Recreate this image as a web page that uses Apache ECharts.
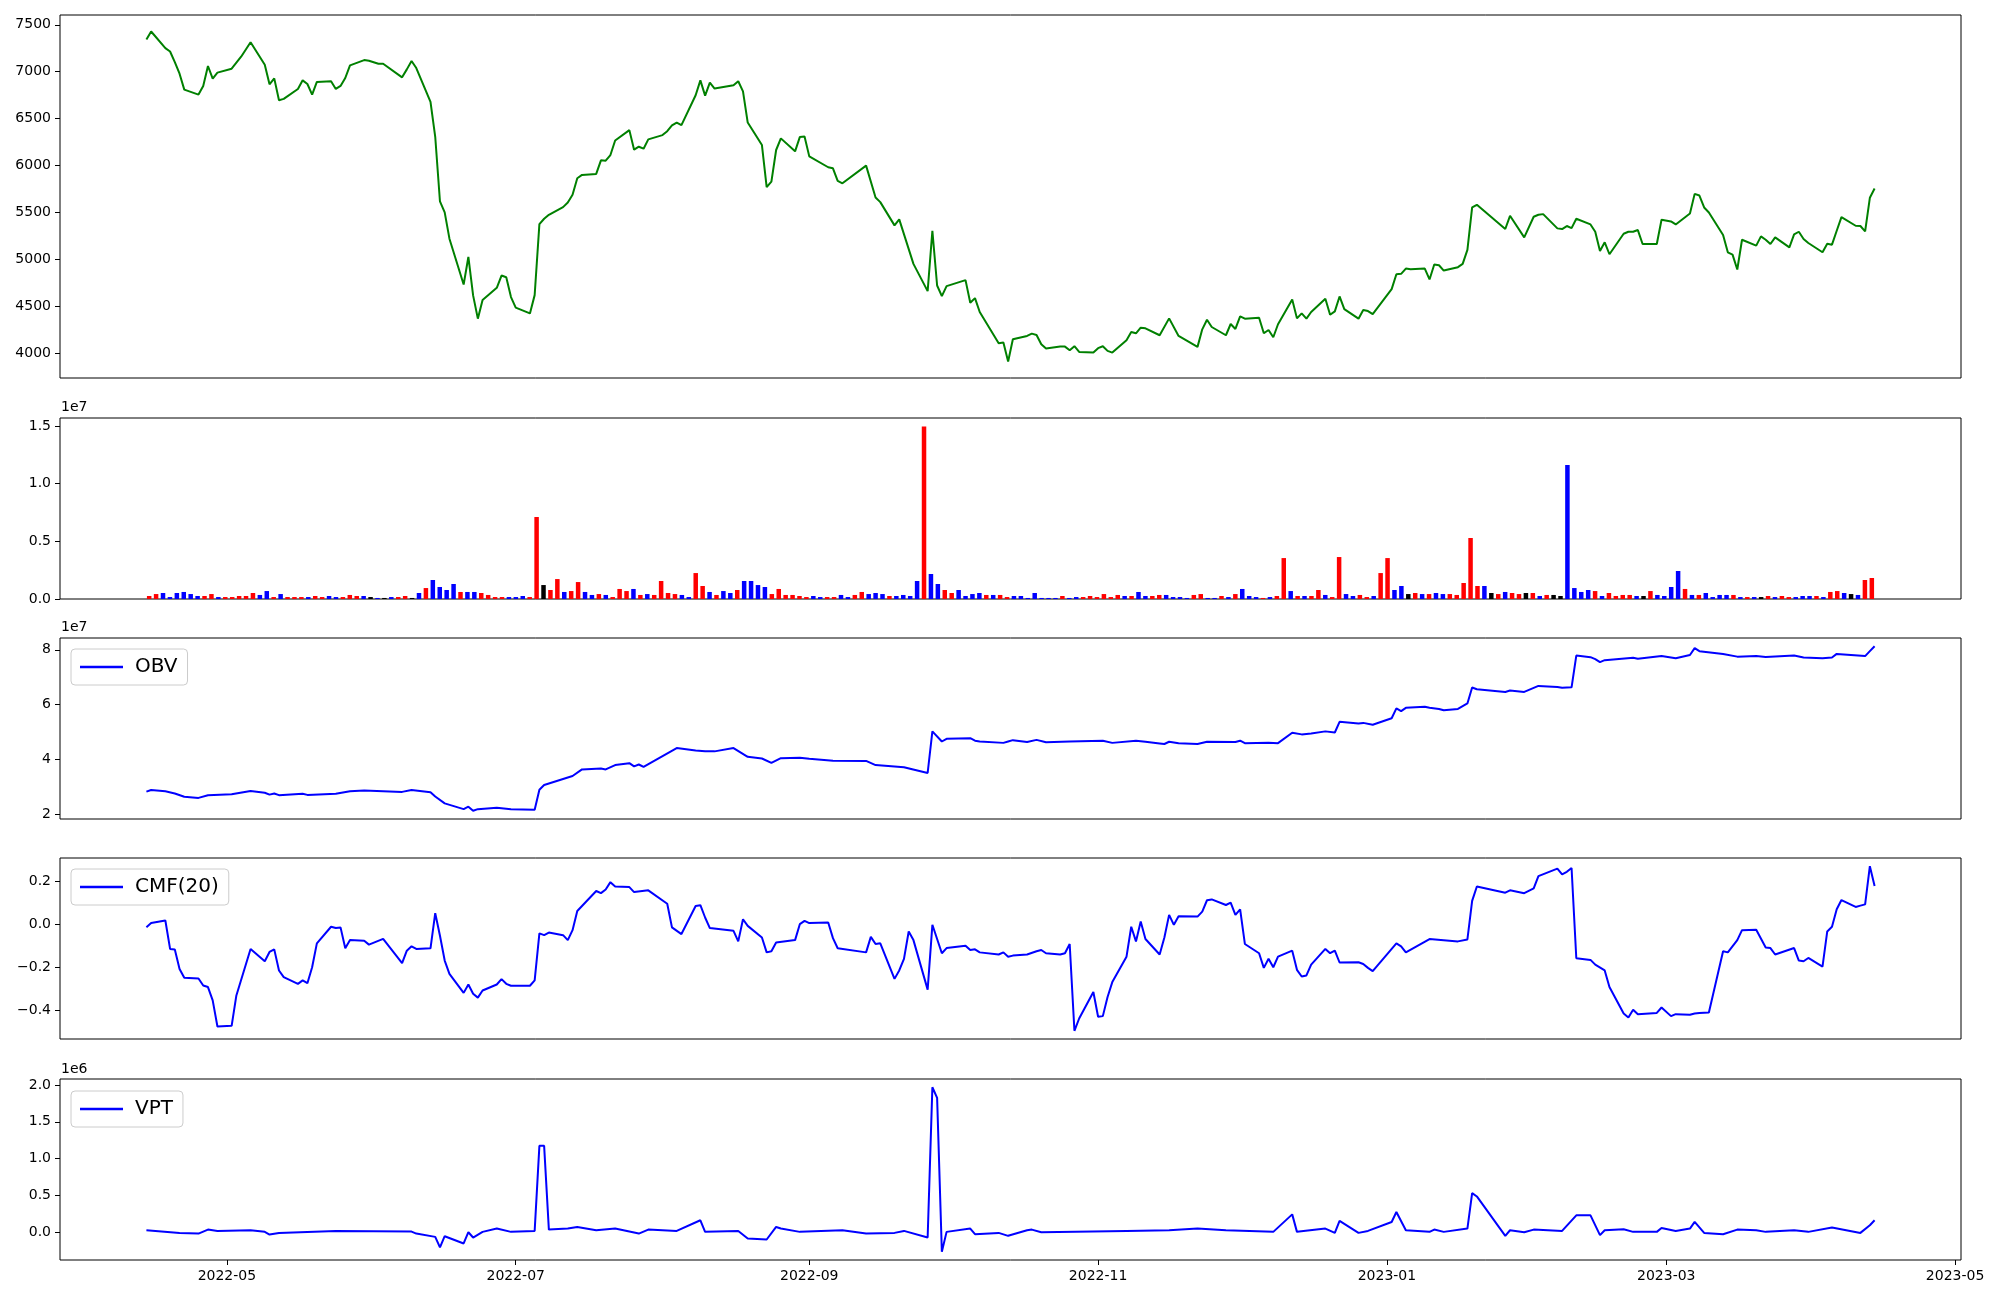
<!DOCTYPE html>
<html>
<head>
<meta charset="utf-8">
<script src="https://cdn.jsdelivr.net/npm/echarts@6/dist/echarts.min.js"></script>
<style>html,body{margin:0;padding:0;background:#fff}#c{width:2000px;height:1300px}</style>
</head>
<body>
<div id="c"></div>
<script>
// ---------------- DATA ----------------
const priceSeries = [
['2022-04-14',7343],['2022-04-15',7428],['2022-04-18',7251],['2022-04-19',7215],['2022-04-20',7102],['2022-04-21',6978],['2022-04-22',6808],['2022-04-25',6755],['2022-04-26',6847],['2022-04-27',7060],['2022-04-28',6925],['2022-04-29',6989],
['2022-05-02',7031],['2022-05-03',7095],['2022-05-04',7159],['2022-05-06',7314],['2022-05-09',7074],['2022-05-10',6865],['2022-05-11',6928],['2022-05-12',6695],['2022-05-13',6709],['2022-05-16',6815],['2022-05-17',6907],['2022-05-18',6868],['2022-05-19',6755],['2022-05-20',6890],['2022-05-23',6897],['2022-05-24',6815],['2022-05-25',6847],['2022-05-26',6932],['2022-05-27',7067],['2022-05-30',7123],['2022-05-31',7116],
['2022-06-02',7084],['2022-06-03',7084],['2022-06-07',6939],['2022-06-08',7024],['2022-06-09',7113],['2022-06-10',7038],['2022-06-13',6677],['2022-06-14',6305],['2022-06-15',5615],['2022-06-16',5498],['2022-06-17',5218],['2022-06-20',4729],['2022-06-21',5023],['2022-06-22',4613],['2022-06-23',4365],['2022-06-24',4563],['2022-06-27',4694],['2022-06-28',4825],['2022-06-29',4807],['2022-06-30',4595],
['2022-07-01',4482],['2022-07-04',4421],['2022-07-05',4616],['2022-07-06',5374],['2022-07-07',5431],['2022-07-08',5473],['2022-07-11',5555],['2022-07-12',5604],['2022-07-13',5686],['2022-07-14',5863],['2022-07-15',5898],['2022-07-18',5909],['2022-07-19',6054],['2022-07-20',6050],['2022-07-21',6110],['2022-07-22',6266],['2022-07-25',6376],['2022-07-26',6167],['2022-07-27',6199],['2022-07-28',6178],['2022-07-29',6277],
['2022-08-01',6323],['2022-08-02',6365],['2022-08-03',6426],['2022-08-04',6457],['2022-08-05',6429],['2022-08-08',6748],['2022-08-09',6907],['2022-08-10',6744],['2022-08-11',6882],['2022-08-12',6819],['2022-08-16',6854],['2022-08-17',6897],['2022-08-18',6790],['2022-08-19',6457],['2022-08-22',6217],['2022-08-23',5767],['2022-08-24',5827],['2022-08-25',6164],['2022-08-26',6288],['2022-08-29',6150],['2022-08-30',6302],['2022-08-31',6309],
['2022-09-01',6096],['2022-09-05',5980],['2022-09-06',5969],['2022-09-07',5834],['2022-09-08',5809],['2022-09-13',5997],['2022-09-15',5657],['2022-09-16',5608],['2022-09-19',5360],['2022-09-20',5424],['2022-09-23',4949],['2022-09-26',4659],['2022-09-27',5303],['2022-09-28',4719],['2022-09-29',4606],['2022-09-30',4712],
['2022-10-04',4776],['2022-10-05',4535],['2022-10-06',4584],['2022-10-07',4436],['2022-10-11',4103],['2022-10-12',4110],['2022-10-13',3908],['2022-10-14',4145],['2022-10-17',4181],['2022-10-18',4205],['2022-10-19',4191],['2022-10-20',4092],['2022-10-21',4046],['2022-10-24',4067],['2022-10-25',4067],['2022-10-26',4028],['2022-10-27',4071],['2022-10-28',4010],['2022-10-31',4003],
['2022-11-01',4050],['2022-11-02',4071],['2022-11-03',4021],['2022-11-04',4003],['2022-11-07',4135],['2022-11-08',4223],['2022-11-09',4209],['2022-11-10',4269],['2022-11-11',4262],['2022-11-14',4188],['2022-11-16',4368],['2022-11-18',4181],['2022-11-22',4064],['2022-11-23',4251],['2022-11-24',4354],['2022-11-25',4276],['2022-11-28',4188],['2022-11-29',4308],['2022-11-30',4255],
['2022-12-01',4390],['2022-12-02',4365],['2022-12-05',4375],['2022-12-06',4209],['2022-12-07',4244],['2022-12-08',4167],['2022-12-09',4305],['2022-12-12',4570],['2022-12-13',4368],['2022-12-14',4421],['2022-12-15',4365],['2022-12-16',4436],['2022-12-19',4577],['2022-12-20',4407],['2022-12-21',4443],['2022-12-22',4602],['2022-12-23',4467],['2022-12-26',4365],['2022-12-27',4457],['2022-12-28',4446],['2022-12-29',4414],
['2023-01-02',4680],['2023-01-03',4839],['2023-01-04',4843],['2023-01-05',4899],['2023-01-06',4892],['2023-01-09',4899],['2023-01-10',4783],['2023-01-11',4942],['2023-01-12',4935],['2023-01-13',4878],['2023-01-16',4914],['2023-01-17',4949],['2023-01-18',5098],['2023-01-19',5551],['2023-01-20',5579],['2023-01-26',5321],['2023-01-27',5462],['2023-01-30',5232],
['2023-02-01',5452],['2023-02-02',5473],['2023-02-03',5480],['2023-02-06',5328],['2023-02-07',5321],['2023-02-08',5353],['2023-02-09',5331],['2023-02-10',5431],['2023-02-13',5370],['2023-02-14',5292],['2023-02-15',5087],['2023-02-16',5179],['2023-02-17',5052],['2023-02-20',5271],['2023-02-21',5292],['2023-02-22',5292],['2023-02-23',5310],['2023-02-24',5161],['2023-02-27',5161],['2023-02-28',5420],
['2023-03-02',5402],['2023-03-03',5370],['2023-03-06',5487],['2023-03-07',5696],['2023-03-08',5678],['2023-03-09',5551],['2023-03-10',5498],['2023-03-13',5257],['2023-03-14',5073],['2023-03-15',5048],['2023-03-16',4889],['2023-03-17',5207],['2023-03-20',5144],['2023-03-21',5243],['2023-03-22',5207],['2023-03-23',5161],['2023-03-24',5232],['2023-03-27',5126],['2023-03-28',5264],['2023-03-29',5292],['2023-03-30',5215],['2023-03-31',5172],
['2023-04-03',5073],['2023-04-04',5165],['2023-04-05',5154],['2023-04-06',5303],['2023-04-07',5448],['2023-04-10',5356],['2023-04-11',5353],['2023-04-12',5296],['2023-04-13',5654],['2023-04-14',5753]
];

// daily volume (one bar per trading day, in order)
const volume = [
260000,430000,520000,170000,520000,610000,430000,260000,260000,430000,
170000,170000,170000,260000,260000,520000,350000,690000,170000,430000,
170000,170000,170000,170000,260000,170000,260000,170000,170000,350000,
260000,260000,170000,90000,90000,170000,170000,260000,90000,520000,
950000,1650000,1040000,780000,1300000,610000,610000,610000,520000,350000,
170000,170000,170000,170000,260000,170000,7110000,1210000,780000,1730000,
610000,690000,1470000,610000,350000,430000,350000,170000,870000,690000,
870000,350000,430000,350000,1560000,520000,430000,350000,170000,2250000,
1130000,610000,350000,690000,520000,780000,1560000,1560000,1210000,1040000,
430000,870000,350000,350000,260000,170000,260000,170000,170000,170000,
350000,170000,350000,610000,430000,520000,430000,260000,260000,350000,
260000,1560000,14950000,2170000,1300000,780000,520000,780000,260000,430000,
520000,350000,350000,350000,170000,260000,260000,90000,520000,90000,
90000,90000,260000,90000,170000,170000,260000,170000,430000,170000,
350000,260000,260000,610000,260000,260000,350000,350000,170000,170000,
90000,350000,430000,90000,90000,260000,170000,430000,870000,260000,
170000,90000,170000,260000,3550000,690000,260000,260000,260000,780000,
350000,170000,3640000,430000,260000,350000,170000,260000,2250000,3550000,
780000,1130000,430000,520000,430000,430000,520000,430000,430000,350000,
1390000,5290000,1130000,1130000,520000,430000,610000,520000,430000,520000,
520000,260000,350000,350000,260000,11620000,950000,610000,780000,690000,
260000,520000,260000,350000,350000,260000,260000,690000,350000,260000,
1040000,2430000,870000,350000,350000,520000,170000,350000,350000,350000,
170000,170000,170000,170000,260000,170000,260000,170000,170000,260000,
260000,260000,170000,610000,690000,520000,430000,350000,1650000,1820000
];
// bar direction: 1 up (red), -1 down (blue), 0 unchanged (black)
const volumeDir = [
1,1,-1,-1,-1,-1,-1,-1,1,1,
-1,1,1,1,1,1,-1,-1,1,-1,
1,1,1,-1,1,1,-1,-1,1,1,
1,-1,0,-1,0,-1,1,1,0,-1,
1,-1,-1,-1,-1,1,-1,-1,1,1,
1,1,-1,-1,-1,1,1,0,1,1,
-1,1,1,-1,-1,1,-1,1,1,1,
-1,1,-1,1,1,1,1,-1,-1,1,
1,-1,1,-1,-1,1,-1,-1,-1,-1,
1,1,1,1,1,1,-1,-1,1,1,
-1,-1,1,1,-1,-1,-1,1,-1,-1,
-1,-1,1,-1,-1,1,1,-1,-1,-1,
-1,1,-1,1,1,-1,-1,-1,-1,-1,
-1,-1,1,-1,-1,1,1,1,1,1,
1,-1,1,-1,-1,1,1,-1,-1,-1,
-1,1,1,-1,-1,1,-1,1,-1,-1,
-1,1,-1,1,1,-1,1,-1,1,1,
-1,1,1,-1,-1,1,1,-1,1,1,
-1,-1,0,1,-1,1,-1,-1,1,1,
1,1,1,-1,0,1,-1,1,1,0,
1,-1,1,0,0,-1,-1,-1,-1,1,
-1,1,1,1,1,-1,0,1,-1,-1,
-1,-1,1,-1,1,-1,-1,-1,-1,1,
-1,1,-1,0,1,-1,1,1,-1,-1,
-1,1,-1,1,1,-1,0,-1,1,1
];

const obvSeries = [
['2022-04-14',2.82e7],['2022-04-15',2.88e7],['2022-04-18',2.83e7],['2022-04-20',2.75e7],['2022-04-22',2.63e7],['2022-04-25',2.59e7],['2022-04-27',2.69e7],['2022-05-02',2.72e7],['2022-05-06',2.84e7],['2022-05-09',2.78e7],['2022-05-10',2.71e7],['2022-05-11',2.75e7],['2022-05-12',2.69e7],['2022-05-17',2.74e7],['2022-05-18',2.70e7],['2022-05-24',2.74e7],['2022-05-27',2.83e7],['2022-05-30',2.86e7],['2022-06-07',2.81e7],['2022-06-09',2.88e7],['2022-06-13',2.80e7],['2022-06-14',2.64e7],['2022-06-16',2.39e7],['2022-06-20',2.18e7],['2022-06-21',2.27e7],['2022-06-22',2.12e7],['2022-06-23',2.18e7],['2022-06-27',2.23e7],['2022-06-30',2.18e7],['2022-07-05',2.16e7],['2022-07-06',2.89e7],['2022-07-07',3.06e7],['2022-07-13',3.39e7],['2022-07-15',3.63e7],['2022-07-19',3.66e7],['2022-07-20',3.63e7],['2022-07-22',3.79e7],['2022-07-25',3.86e7],['2022-07-26',3.74e7],['2022-07-27',3.81e7],['2022-07-28',3.72e7],['2022-08-04',4.41e7],['2022-08-08',4.32e7],['2022-08-10',4.29e7],['2022-08-12',4.29e7],['2022-08-16',4.41e7],['2022-08-19',4.09e7],['2022-08-22',4.03e7],['2022-08-24',3.87e7],['2022-08-26',4.04e7],['2022-08-30',4.06e7],['2022-09-01',4.02e7],['2022-09-06',3.95e7],['2022-09-13',3.94e7],['2022-09-15',3.79e7],['2022-09-19',3.74e7],['2022-09-21',3.71e7],['2022-09-26',3.50e7],['2022-09-27',5.02e7],['2022-09-29',4.65e7],['2022-09-30',4.75e7],['2022-10-05',4.77e7],['2022-10-06',4.68e7],['2022-10-07',4.65e7],['2022-10-12',4.60e7],['2022-10-13',4.65e7],['2022-10-14',4.70e7],['2022-10-17',4.63e7],['2022-10-19',4.71e7],['2022-10-21',4.62e7],['2022-10-26',4.65e7],['2022-11-02',4.68e7],['2022-11-04',4.60e7],['2022-11-09',4.68e7],['2022-11-11',4.64e7],['2022-11-14',4.58e7],['2022-11-15',4.56e7],['2022-11-16',4.64e7],['2022-11-18',4.59e7],['2022-11-22',4.56e7],['2022-11-24',4.64e7],['2022-11-30',4.63e7],['2022-12-01',4.68e7],['2022-12-02',4.59e7],['2022-12-07',4.60e7],['2022-12-09',4.59e7],['2022-12-12',4.97e7],['2022-12-14',4.91e7],['2022-12-16',4.94e7],['2022-12-19',5.02e7],['2022-12-21',4.98e7],['2022-12-22',5.37e7],['2022-12-26',5.31e7],['2022-12-27',5.33e7],['2022-12-29',5.26e7],['2023-01-02',5.50e7],['2023-01-03',5.86e7],['2023-01-04',5.76e7],['2023-01-05',5.88e7],['2023-01-09',5.92e7],['2023-01-10',5.88e7],['2023-01-12',5.84e7],['2023-01-13',5.79e7],['2023-01-16',5.84e7],['2023-01-18',6.04e7],['2023-01-19',6.62e7],['2023-01-20',6.56e7],['2023-01-26',6.46e7],['2023-01-27',6.51e7],['2023-01-30',6.46e7],['2023-02-02',6.68e7],['2023-02-06',6.64e7],['2023-02-07',6.61e7],['2023-02-09',6.63e7],['2023-02-10',7.79e7],['2023-02-13',7.73e7],['2023-02-14',7.66e7],['2023-02-15',7.55e7],['2023-02-16',7.62e7],['2023-02-22',7.71e7],['2023-02-23',7.67e7],['2023-02-28',7.77e7],['2023-03-03',7.69e7],['2023-03-06',7.81e7],['2023-03-07',8.06e7],['2023-03-08',7.95e7],['2023-03-13',7.85e7],['2023-03-16',7.75e7],['2023-03-20',7.77e7],['2023-03-22',7.74e7],['2023-03-28',7.79e7],['2023-03-30',7.72e7],['2023-04-03',7.69e7],['2023-04-05',7.72e7],['2023-04-06',7.85e7],['2023-04-12',7.77e7],['2023-04-13',7.95e7],['2023-04-14',8.13e7]
];

const cmfSeries = [
['2022-04-14',-0.015],['2022-04-15',0.004],['2022-04-18',0.016],['2022-04-19',-0.116],['2022-04-20',-0.119],['2022-04-21',-0.209],['2022-04-22',-0.250],['2022-04-25',-0.253],['2022-04-26',-0.286],['2022-04-27',-0.293],['2022-04-28',-0.355],['2022-04-29',-0.476],['2022-05-02',-0.473],['2022-05-03',-0.332],['2022-05-06',-0.116],['2022-05-09',-0.173],['2022-05-10',-0.130],['2022-05-11',-0.118],['2022-05-12',-0.216],['2022-05-13',-0.247],['2022-05-16',-0.278],['2022-05-17',-0.262],['2022-05-18',-0.275],['2022-05-19',-0.201],['2022-05-20',-0.090],['2022-05-23',-0.013],['2022-05-24',-0.019],['2022-05-25',-0.016],['2022-05-26',-0.113],['2022-05-27',-0.075],['2022-05-30',-0.078],['2022-05-31',-0.096],['2022-06-03',-0.069],['2022-06-07',-0.182],['2022-06-08',-0.124],['2022-06-09',-0.104],['2022-06-10',-0.116],['2022-06-13',-0.113],['2022-06-14',0.050],['2022-06-15',-0.055],['2022-06-16',-0.170],['2022-06-17',-0.232],['2022-06-20',-0.320],['2022-06-21',-0.281],['2022-06-22',-0.324],['2022-06-23',-0.342],['2022-06-24',-0.309],['2022-06-27',-0.281],['2022-06-28',-0.256],['2022-06-29',-0.278],['2022-06-30',-0.287],['2022-07-04',-0.287],['2022-07-05',-0.262],['2022-07-06',-0.044],['2022-07-07',-0.052],['2022-07-08',-0.040],['2022-07-11',-0.052],['2022-07-12',-0.075],['2022-07-13',-0.029],['2022-07-14',0.060],['2022-07-18',0.153],['2022-07-19',0.143],['2022-07-20',0.160],['2022-07-21',0.194],['2022-07-22',0.174],['2022-07-25',0.171],['2022-07-26',0.148],['2022-07-29',0.156],['2022-08-02',0.094],['2022-08-03',-0.016],['2022-08-05',-0.047],['2022-08-08',0.083],['2022-08-09',0.087],['2022-08-10',0.030],['2022-08-11',-0.019],['2022-08-16',-0.032],['2022-08-17',-0.081],['2022-08-18',0.022],['2022-08-19',-0.009],['2022-08-22',-0.063],['2022-08-23',-0.132],['2022-08-24',-0.127],['2022-08-25',-0.086],['2022-08-29',-0.075],['2022-08-30',-0.001],['2022-08-31',0.014],['2022-09-01',0.004],['2022-09-05',0.007],['2022-09-06',-0.066],['2022-09-07',-0.113],['2022-09-13',-0.132],['2022-09-14',-0.060],['2022-09-15',-0.093],['2022-09-16',-0.090],['2022-09-19',-0.255],['2022-09-20',-0.216],['2022-09-21',-0.162],['2022-09-22',-0.035],['2022-09-23',-0.075],['2022-09-26',-0.305],['2022-09-27',-0.004],['2022-09-29',-0.136],['2022-09-30',-0.112],['2022-10-04',-0.101],['2022-10-05',-0.121],['2022-10-06',-0.118],['2022-10-07',-0.132],['2022-10-11',-0.142],['2022-10-12',-0.132],['2022-10-13',-0.152],['2022-10-14',-0.147],['2022-10-17',-0.142],['2022-10-19',-0.127],['2022-10-20',-0.121],['2022-10-21',-0.136],['2022-10-24',-0.142],['2022-10-25',-0.136],['2022-10-26',-0.093],['2022-10-27',-0.496],['2022-10-28',-0.439],['2022-10-31',-0.316],['2022-11-01',-0.431],['2022-11-02',-0.428],['2022-11-03',-0.339],['2022-11-04',-0.270],['2022-11-07',-0.152],['2022-11-08',-0.013],['2022-11-09',-0.081],['2022-11-10',0.011],['2022-11-11',-0.070],['2022-11-14',-0.142],['2022-11-15',-0.063],['2022-11-16',0.042],['2022-11-17',-0.004],['2022-11-18',0.036],['2022-11-22',0.034],['2022-11-23',0.057],['2022-11-24',0.110],['2022-11-25',0.114],['2022-11-28',0.088],['2022-11-29',0.099],['2022-11-30',0.042],['2022-12-01',0.068],['2022-12-02',-0.093],['2022-12-05',-0.136],['2022-12-06',-0.204],['2022-12-07',-0.162],['2022-12-08',-0.201],['2022-12-09',-0.152],['2022-12-12',-0.124],['2022-12-13',-0.213],['2022-12-14',-0.244],['2022-12-15',-0.239],['2022-12-16',-0.189],['2022-12-19',-0.116],['2022-12-20',-0.136],['2022-12-21',-0.124],['2022-12-22',-0.179],['2022-12-26',-0.178],['2022-12-27',-0.186],['2022-12-28',-0.204],['2022-12-29',-0.219],['2023-01-03',-0.090],['2023-01-04',-0.104],['2023-01-05',-0.132],['2023-01-10',-0.070],['2023-01-16',-0.081],['2023-01-18',-0.072],['2023-01-19',0.107],['2023-01-20',0.174],['2023-01-26',0.145],['2023-01-27',0.156],['2023-01-30',0.143],['2023-02-01',0.165],['2023-02-02',0.222],['2023-02-06',0.257],['2023-02-07',0.230],['2023-02-08',0.242],['2023-02-09',0.260],['2023-02-10',-0.159],['2023-02-13',-0.167],['2023-02-14',-0.189],['2023-02-16',-0.216],['2023-02-17',-0.293],['2023-02-20',-0.416],['2023-02-21',-0.434],['2023-02-22',-0.398],['2023-02-23',-0.419],['2023-02-27',-0.413],['2023-02-28',-0.388],['2023-03-02',-0.428],['2023-03-03',-0.419],['2023-03-06',-0.422],['2023-03-07',-0.416],['2023-03-08',-0.413],['2023-03-10',-0.411],['2023-03-13',-0.127],['2023-03-14',-0.132],['2023-03-16',-0.075],['2023-03-17',-0.029],['2023-03-20',-0.027],['2023-03-22',-0.109],['2023-03-23',-0.112],['2023-03-24',-0.142],['2023-03-28',-0.112],['2023-03-29',-0.170],['2023-03-30',-0.173],['2023-03-31',-0.158],['2023-04-03',-0.198],['2023-04-04',-0.035],['2023-04-05',-0.013],['2023-04-06',0.068],['2023-04-07',0.111],['2023-04-10',0.079],['2023-04-11',0.085],['2023-04-12',0.091],['2023-04-13',0.268],['2023-04-14',0.176]
];

const vptSeries = [
['2022-04-14',23000],['2022-04-21',-13000],['2022-04-25',-22000],['2022-04-27',32000],['2022-04-29',14000],['2022-05-06',23000],['2022-05-09',1000],['2022-05-10',-35000],['2022-05-12',-13000],['2022-05-24',14000],['2022-06-09',5000],['2022-06-10',-22000],['2022-06-14',-67000],['2022-06-15',-211000],['2022-06-16',-58000],['2022-06-20',-157000],['2022-06-21',-4000],['2022-06-22',-76000],['2022-06-24',1000],['2022-06-27',46000],['2022-06-30',1000],['2022-07-05',14000],['2022-07-06',1172000],['2022-07-07',1172000],['2022-07-08',32000],['2022-07-12',46000],['2022-07-14',68000],['2022-07-18',23000],['2022-07-22',46000],['2022-07-27',-22000],['2022-07-29',32000],['2022-08-04',14000],['2022-08-09',159000],['2022-08-10',1000],['2022-08-17',14000],['2022-08-19',-89000],['2022-08-23',-103000],['2022-08-25',68000],['2022-08-26',46000],['2022-08-30',1000],['2022-09-08',23000],['2022-09-13',-22000],['2022-09-19',-13000],['2022-09-21',14000],['2022-09-26',-76000],['2022-09-27',1970000],['2022-09-28',1826000],['2022-09-29',-270000],['2022-09-30',1000],['2022-10-05',46000],['2022-10-06',-31000],['2022-10-11',-13000],['2022-10-13',-53000],['2022-10-17',23000],['2022-10-18',32000],['2022-10-20',-4000],['2022-11-07',14000],['2022-11-16',23000],['2022-11-22',46000],['2022-11-28',23000],['2022-12-08',1000],['2022-12-12',239000],['2022-12-13',1000],['2022-12-19',46000],['2022-12-21',-13000],['2022-12-22',150000],['2022-12-26',-13000],['2022-12-28',14000],['2023-01-02',136000],['2023-01-03',271000],['2023-01-05',23000],['2023-01-10',1000],['2023-01-11',32000],['2023-01-13',1000],['2023-01-18',46000],['2023-01-19',528000],['2023-01-20',483000],['2023-01-26',-53000],['2023-01-27',23000],['2023-01-30',-4000],['2023-02-01',32000],['2023-02-07',14000],['2023-02-10',226000],['2023-02-13',226000],['2023-02-15',-44000],['2023-02-16',23000],['2023-02-20',37000],['2023-02-22',1000],['2023-02-27',1000],['2023-02-28',55000],['2023-03-03',14000],['2023-03-06',46000],['2023-03-07',136000],['2023-03-09',-13000],['2023-03-13',-31000],['2023-03-16',32000],['2023-03-20',23000],['2023-03-22',1000],['2023-03-28',23000],['2023-03-31',1000],['2023-04-05',59000],['2023-04-11',-13000],['2023-04-13',91000],['2023-04-14',159000]
];

// tick labels
const xTickLabels = ['2022-05','2022-07','2022-09','2022-11','2023-01','2023-03','2023-05'];
const priceTicks = [4000,4500,5000,5500,6000,6500,7000,7500];
const priceTickLabels = ['4000','4500','5000','5500','6000','6500','7000','7500'];
const volTicks = [0,5e6,1e7,1.5e7];
const volTickLabels = ['0.0','0.5','1.0','1.5'];
const obvTicks = [2e7,4e7,6e7,8e7];
const obvTickLabels = ['2','4','6','8'];
const cmfTicks = [-0.4,-0.2,0,0.2];
const cmfTickLabels = ['\u22120.4','\u22120.2','0.0','0.2'];
const vptTicks = [0,5e5,1e6,1.5e6,2e6];
const vptTickLabels = ['0.0','0.5','1.0','1.5','2.0'];

// ---------------- CHART ----------------
const FONT = 'DejaVu Sans';
const ts = s => { const p = s.split('-').map(Number); return Date.UTC(p[0], p[1] - 1, p[2] || 1); };
const toXY = arr => arr.map(p => [ts(p[0]), p[1]]);
const t0 = ts(priceSeries[0][0]), t1 = ts(priceSeries[priceSeries.length-1][0]);
const tPad = (t1 - t0) * 0.05;
const xMin = t0 - tPad, xMax = t1 + tPad;
const xTickVals = xTickLabels.map(l => ts(l + '-01'));

function range(arr, pad) {
  let lo = Infinity, hi = -Infinity;
  arr.forEach(p => { const v = Array.isArray(p) ? p[1] : p; if (v < lo) lo = v; if (v > hi) hi = v; });
  const m = (hi - lo) * pad;
  return [lo - m, hi + m];
}
const pR = range(priceSeries, 0.05);
const oR = range(obvSeries, 0.05);
const cR = range(cmfSeries, 0.05);
const vR = range(vptSeries, 0.05);
const volMax = Math.max(...volume) * 1.05;
const n = volume.length;
const vxMin = -0.4 - 0.05 * (n - 0.2), vxMax = (n - 1) + 0.4 + 0.05 * (n - 0.2);

const grids = [
  {top: 15, height: 363},
  {top: 418, height: 181},
  {top: 638, height: 181},
  {top: 858, height: 181},
  {top: 1079, height: 181}
].map(g => Object.assign({left: 60, width: 1901, show: true, borderColor: '#000', borderWidth: 1, backgroundColor: 'transparent'}, g));

function labelOf(ticks, labels) {
  return v => { const k = ticks.findIndex(t => Math.abs(t - v) <= 1e-6 * Math.max(1, Math.abs(t))); return k >= 0 ? labels[k] : ''; };
}
function yAxis(i, min, max, ticks, labels) {
  return {
    type: 'value', gridIndex: i, min: min, max: max, position: 'left',
    axisLine: {show: false, onZero: false}, splitLine: {show: false},
    axisTick: {show: true, length: 5, lineStyle: {color: '#000', width: 1}, customValues: ticks},
    axisLabel: {show: true, margin: 9, color: '#000', fontSize: 14, fontFamily: FONT,
      customValues: ticks, formatter: labelOf(ticks, labels)}
  };
}
function xAxis(i, showTicks) {
  return {
    type: 'value', gridIndex: i, min: xMin, max: xMax, position: 'bottom',
    axisLine: {show: false, onZero: false}, splitLine: {show: false},
    axisTick: {show: showTicks, length: 5, lineStyle: {color: '#000', width: 1}, customValues: xTickVals},
    axisLabel: {show: showTicks, margin: 9, color: '#000', fontSize: 14, fontFamily: FONT,
      customValues: xTickVals, hideOverlap: false, formatter: labelOf(xTickVals, xTickLabels)}
  };
}

const colorOf = d => d > 0 ? '#ff0000' : (d < 0 ? '#0000ff' : '#000000');

function legend(name, top) {
  return {
    show: true, data: [name], left: 71, top: top, orient: 'horizontal',
    icon: 'rect', itemWidth: 43, itemHeight: 2.5,
    backgroundColor: 'rgba(255,255,255,0.8)', borderColor: '#cccccc', borderWidth: 1, borderRadius: 4,
    padding: [6, 10, 6, 9], selectedMode: false,
    textStyle: {fontSize: 20, fontFamily: FONT, color: '#000', lineHeight: 24, padding: [0, 0, 0, 7]}
  };
}

const option = {
  animation: false,
  backgroundColor: '#ffffff',
  grid: grids,
  xAxis: [
    xAxis(0, false),
    {type: 'value', gridIndex: 1, min: vxMin, max: vxMax, position: 'bottom', axisLine: {show: false, onZero: false}, axisTick: {show: false}, axisLabel: {show: false}, splitLine: {show: false}},
    xAxis(2, false),
    xAxis(3, false),
    xAxis(4, true)
  ],
  yAxis: [
    yAxis(0, pR[0], pR[1], priceTicks, priceTickLabels),
    yAxis(1, 0, volMax, volTicks, volTickLabels),
    yAxis(2, oR[0], oR[1], obvTicks, obvTickLabels),
    yAxis(3, cR[0], cR[1], cmfTicks, cmfTickLabels),
    yAxis(4, vR[0], vR[1], vptTicks, vptTickLabels)
  ],
  legend: [legend('OBV', 649), legend('CMF(20)', 869), legend('VPT', 1091)],
  graphic: [
    {type: 'text', left: 61, top: 400, style: {text: '1e7', font: '14px "DejaVu Sans"', fill: '#000'}},
    {type: 'text', left: 61, top: 620, style: {text: '1e7', font: '14px "DejaVu Sans"', fill: '#000'}},
    {type: 'text', left: 61, top: 1062, style: {text: '1e6', font: '14px "DejaVu Sans"', fill: '#000'}}
  ],
  series: [
    {name: 'Close', type: 'line', xAxisIndex: 0, yAxisIndex: 0, data: toXY(priceSeries), showSymbol: false, symbol: 'none',
      lineStyle: {color: '#008000', width: 2}, itemStyle: {color: '#008000'}},
    {name: 'Volume', type: 'bar', xAxisIndex: 1, yAxisIndex: 1, barWidth: 4.5,
      data: volume.map((v, i) => ({value: [i, v], itemStyle: {color: colorOf(volumeDir[i])}}))},
    {name: 'OBV', type: 'line', xAxisIndex: 2, yAxisIndex: 2, data: toXY(obvSeries), showSymbol: false, symbol: 'none',
      lineStyle: {color: '#0000ff', width: 2}, itemStyle: {color: '#0000ff'}},
    {name: 'CMF(20)', type: 'line', xAxisIndex: 3, yAxisIndex: 3, data: toXY(cmfSeries), showSymbol: false, symbol: 'none',
      lineStyle: {color: '#0000ff', width: 2}, itemStyle: {color: '#0000ff'}},
    {name: 'VPT', type: 'line', xAxisIndex: 4, yAxisIndex: 4, data: toXY(vptSeries), showSymbol: false, symbol: 'none',
      lineStyle: {color: '#0000ff', width: 2}, itemStyle: {color: '#0000ff'}}
  ]
};

const chart = echarts.init(document.getElementById('c'), null, {renderer: 'canvas', width: 2000, height: 1300});
chart.setOption(option);
</script>
</body>
</html>
